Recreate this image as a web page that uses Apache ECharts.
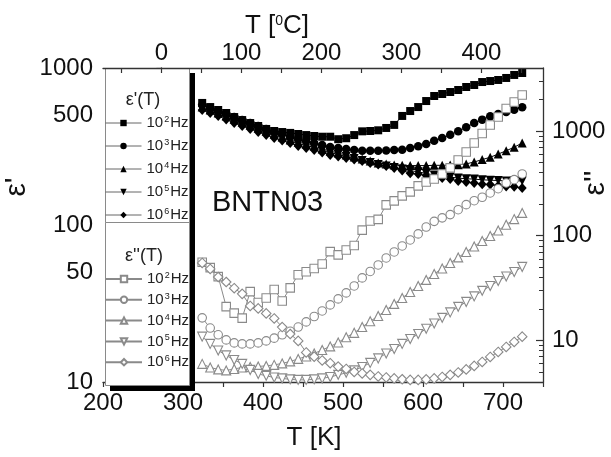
<!DOCTYPE html>
<html>
<head>
<meta charset="utf-8">
<script src="https://cdn.jsdelivr.net/npm/echarts@6/dist/echarts.min.js"></script>
<style>
  html, body { margin: 0; padding: 0; background: #fff; }
  #chart { width: 611px; height: 457px; }
</style>
</head>
<body>
<div id="chart"></div>
<script>
// Measurement temperatures (K)
const temperatureK = [324, 334, 344, 354, 364, 374, 384, 394, 404, 414, 424, 434, 444, 454, 464, 474, 484, 494, 504, 514,
  524, 534, 544, 554, 564, 574, 584, 594, 604, 614, 624, 634, 644, 654, 664, 674, 684, 694, 704, 714, 724];

// Real part of permittivity, eps'(T)
const epsReal_1e2 = [599, 564, 540, 517, 487, 466, 446, 427, 409, 397, 391, 386, 380, 374, 369, 365, 365, 352, 357, 374,
  395, 397, 401, 415, 434, 495, 532, 564, 616, 663, 683, 703, 724, 757, 779, 814, 826, 839, 864, 903, 929];
const epsReal_1e3 = [581, 556, 532, 509, 487, 466, 446, 427, 409, 391, 380, 364, 353, 343, 333, 323, 314, 309, 305, 300,
  297, 297, 297, 298, 300, 302, 309, 317, 328, 344, 358, 376, 395, 419, 446, 469, 493, 509, 524, 543, 562];
const epsReal_1e4 = [564, 540, 517, 495, 473, 453, 434, 415, 397, 380, 364, 348, 338, 328, 319, 305, 296, 287, 279, 271,
  263, 256, 248, 245, 241, 240, 239, 239, 239, 240, 240, 241, 242, 245, 252, 261, 270, 283, 297, 313, 333];
const epsReal_1e5 = [552, 532, 509, 487, 466, 446, 427, 409, 391, 374, 358, 343, 330, 321, 312, 300, 290, 281, 273, 265,
  258, 250, 243, 238, 232, 227, 222, 218, 213, 208, 205, 202, 199, 197, 196, 194, 193, 192, 191, 191, 191];
const epsReal_1e6 = [540, 517, 495, 470, 446, 427, 409, 391, 374, 358, 345, 333, 319, 309, 300, 290, 279, 273, 267, 261,
  256, 248, 243, 238, 231, 222, 214, 211, 207, 203, 199, 196, 191, 188, 185, 182, 181, 178, 176, 175, 172];

// Imaginary part of permittivity, eps''(T)
const epsImag_1e2 = [55.7, 49.5, 40.6, 21.0, 18.2, 16.3, 29.2, 23.0, 25.4, 30.6, 23.8, 31.7, 42.4, 45.3, 48.6, 53.7, 70.4, 65.5, 73.1, 80.7,
  113, 138, 143, 197, 215, 240, 262, 299, 326, 348, 389, 444, 529, 630, 769, 947, 1142, 1361, 1641, 1893, 2208];
const epsImag_1e3 = [16.4, 13.1, 11.3, 10.1, 9.45, 9.25, 9.25, 9.45, 9.88, 10.5, 11.3, 12.2, 13.4, 15.0, 16.9, 19.1, 21.8, 24.9, 28.4, 33.1,
  39.5, 45.5, 52.5, 61.3, 69.9, 79.8, 91.0, 104, 121, 137, 148, 159, 177, 198, 216, 233, 256, 281, 319, 343, 389];
const epsImag_1e4 = [5.96, 5.51, 5.28, 5.16, 5.33, 5.51, 5.57, 5.64, 5.70, 5.83, 6.02, 6.29, 6.65, 7.02, 7.50, 8.10, 8.75, 9.55, 10.7, 11.8,
  13.4, 15.2, 17.1, 19.5, 22.3, 25.4, 29.0, 33.1, 37.8, 43.1, 48.6, 54.9, 62.0, 69.9, 78.9, 89.1, 99.4, 112, 127, 144, 165];
const epsImag_1e5 = [10.85, 9.25, 8.01, 7.18, 6.50, 5.96, 5.22, 4.78, 4.58, 4.42, 4.33, 4.24, 4.19, 4.19, 4.24, 4.33, 4.47, 4.68, 4.89, 5.16,
  5.57, 6.09, 6.72, 7.50, 8.28, 9.25, 10.3, 11.5, 12.9, 14.5, 16.4, 18.5, 20.9, 23.3, 26.3, 29.7, 33.1, 36.9, 40.8, 45.0, 50.3];
const epsImag_1e6 = [54.9, 48.1, 40.3, 36.1, 31.5, 27.8, 21.3, 20.2, 18.1, 16.2, 13.4, 11.5, 9.88, 7.67, 6.99, 6.43, 6.05, 5.61, 5.33, 4.99,
  4.83, 4.68, 4.52, 4.42, 4.33, 4.25, 4.19, 4.19, 4.24, 4.33, 4.47, 4.68, 4.94, 5.28, 5.70, 6.22, 6.94, 7.75, 8.65, 9.66, 10.85];

// Frequency exponents (10^n Hz)
const freqExponents = ['2', '3', '4', '5', '6'];

// Axis ticks and labels
const bottomLabelValues = [200, 300, 400, 500, 600, 700];
const bottomTickValues = [200, 250, 300, 350, 400, 450, 500, 550, 600, 650, 700, 750];
const topLabelValues = [0, 100, 200, 300, 400];
const topTickValues = [-50, 0, 50, 100, 150, 200, 250, 300, 350, 400, 450];
const leftTickValues = [10, 50, 100, 500, 1000];
const rightTickValues = [10, 100, 1000];
const rightMinorTickValues = [5, 6, 7, 8, 9, 20, 30, 40, 50, 60, 70, 80, 90, 200, 300, 400, 500, 600, 700, 800, 900, 2000, 3000];

const FONT = 'Liberation Sans, Arial, Helvetica, sans-serif';
const GRAY = '#8a8a8a';
const AXIS_COLOR = '#333';

const realSets = [epsReal_1e2, epsReal_1e3, epsReal_1e4, epsReal_1e5, epsReal_1e6];
const imagSets = [epsImag_1e2, epsImag_1e3, epsImag_1e4, epsImag_1e5, epsImag_1e6];
const symbols = ['rect', 'circle', 'triangle', 'triangle', 'diamond'];
const rotations = [0, 0, 0, 180, 0];
const filledSizes = [8, 8.5, 9, 9, [9, 10]];
const openSizes = [8.5, 8.5, 9, 9, [9.5, 9.5]];

const realNames = freqExponents.map(n => "ε' 10^" + n + ' Hz');
const imagNames = freqExponents.map(n => "ε'' 10^" + n + ' Hz');

const pairs = vals => temperatureK.map((t, i) => [t, vals[i]]);

const series = [];
realSets.forEach((vals, k) => {
  series.push({
    name: realNames[k],
    type: 'line',
    xAxisIndex: 0,
    yAxisIndex: 0,
    data: pairs(vals),
    symbol: symbols[k],
    symbolRotate: rotations[k],
    symbolSize: filledSizes[k],
    showAllSymbol: true,
    lineStyle: { color: '#000', width: 1 },
    itemStyle: { color: '#000', borderWidth: 0 },
    emphasis: { disabled: true },
    z: 2
  });
});
imagSets.forEach((vals, k) => {
  series.push({
    name: imagNames[k],
    type: 'line',
    xAxisIndex: 0,
    yAxisIndex: 1,
    data: pairs(vals),
    symbol: symbols[k],
    symbolRotate: rotations[k],
    symbolSize: openSizes[k],
    showAllSymbol: true,
    lineStyle: { color: GRAY, width: 1 },
    itemStyle: { color: '#fff', borderColor: GRAY, borderWidth: 1.1 },
    emphasis: { disabled: true },
    z: 3
  });
});

const legendRich = {
  n: { fontSize: 15, fontFamily: FONT, color: '#222', lineHeight: 16 },
  s: { fontSize: 9, fontFamily: FONT, color: '#222', verticalAlign: 'top', lineHeight: 9, padding: [0, 1, 0, 1] }
};
const legendFormatter = name => {
  const n = name.match(/\^(\d)/)[1];
  return '{n|10}{s|' + n + '}{n|Hz}';
};

const plainNumber = v => String(v);
const labelStyle = { fontFamily: FONT, fontSize: 24, color: '#111', formatter: plainNumber };

const chart = echarts.init(document.getElementById('chart'), null, { renderer: 'canvas' });
chart.setOption({
  animation: false,
  backgroundColor: '#fff',
  grid: { left: 103, right: 68, top: 68, bottom: 75, containLabel: false, outerBoundsMode: 'none' },
  xAxis: [
    {
      type: 'value', position: 'bottom', min: 200, max: 750, z: 0,
      axisLine: { show: true, lineStyle: { color: AXIS_COLOR, width: 1.3 } },
      axisTick: { show: true, inside: false, length: 5, customValues: bottomTickValues, lineStyle: { color: AXIS_COLOR, width: 1.2 } },
      axisLabel: Object.assign({ margin: 9, customValues: bottomLabelValues }, labelStyle),
      splitLine: { show: false }
    },
    {
      type: 'value', position: 'top', min: -73, max: 477, z: 5,
      axisLine: { show: true, lineStyle: { color: AXIS_COLOR, width: 1.3 } },
      axisTick: { show: true, inside: true, length: 5, customValues: topTickValues, lineStyle: { color: AXIS_COLOR, width: 1.2 } },
      axisLabel: Object.assign({ margin: 3, customValues: topLabelValues }, labelStyle),
      splitLine: { show: false }
    }
  ],
  yAxis: [
    {
      type: 'log', logBase: 10, position: 'left', min: 10, max: 1000, z: 0,
      axisLine: { show: true, lineStyle: { color: AXIS_COLOR, width: 1.3 } },
      axisTick: { show: true, inside: false, length: 5, customValues: leftTickValues, lineStyle: { color: AXIS_COLOR, width: 1.2 } },
      axisLabel: Object.assign({ margin: 10, customValues: leftTickValues }, labelStyle),
      splitLine: { show: false },
      minorTick: { show: false }
    },
    {
      type: 'log', logBase: 10, position: 'right', min: 4, max: 4000, z: 1,
      axisLine: { show: true, lineStyle: { color: AXIS_COLOR, width: 1.3 } },
      axisTick: { show: true, inside: true, length: 7, customValues: rightTickValues, lineStyle: { color: AXIS_COLOR, width: 1.2 } },
      axisLabel: Object.assign({ margin: 9, customValues: rightTickValues }, labelStyle),
      splitLine: { show: false }
    },
    {
      type: 'log', logBase: 10, position: 'right', min: 4, max: 4000, z: 1,
      axisLine: { show: false },
      axisTick: { show: true, inside: true, length: 4, customValues: rightMinorTickValues, lineStyle: { color: AXIS_COLOR, width: 1 } },
      axisLabel: { show: false },
      splitLine: { show: false }
    }
  ],
  legend: [
    {
      data: realNames, orient: 'vertical', left: 105, top: 115, padding: 0,
      itemWidth: 36, itemHeight: 8, itemGap: 7.5, selectedMode: false, z: 6,
      lineStyle: { color: '#666', width: 1 },
      textStyle: { fontFamily: FONT, fontSize: 15, color: '#222', rich: legendRich },
      formatter: legendFormatter
    },
    {
      data: imagNames, orient: 'vertical', left: 105, top: 271, padding: 0,
      itemWidth: 36, itemHeight: 8, itemGap: 5.3, selectedMode: false, z: 6,
      textStyle: { fontFamily: FONT, fontSize: 15, color: '#222', rich: legendRich },
      formatter: legendFormatter
    }
  ],
  graphic: [
    // legend box shadows
    { type: 'rect', z: 3, shape: { x: 189, y: 73, width: 6, height: 318 }, style: { fill: '#000' } },
    { type: 'rect', z: 3, shape: { x: 110, y: 385, width: 85, height: 6 }, style: { fill: '#000' } },
    // legend boxes
    { type: 'rect', z: 3, shape: { x: 105.5, y: 68.5, width: 84, height: 154 }, style: { fill: '#fff', stroke: GRAY, lineWidth: 1 } },
    { type: 'rect', z: 3, shape: { x: 105.5, y: 222.5, width: 84, height: 163 }, style: { fill: '#fff', stroke: GRAY, lineWidth: 1 } },
    // legend headings
    { type: 'text', z: 7, x: 143, y: 100, style: { text: "ε'(T)", fontFamily: FONT, fontSize: 18, fill: '#222', align: 'center', verticalAlign: 'middle' } },
    { type: 'text', z: 7, x: 144, y: 256, style: { text: "ε''(T)", fontFamily: FONT, fontSize: 18, fill: '#222', align: 'center', verticalAlign: 'middle' } },
    // sample name
    { type: 'text', z: 7, x: 212, y: 217, style: { text: 'BNTN03', fontFamily: FONT, fontSize: 29, fill: '#111', align: 'left', verticalAlign: 'bottom' } },
    // axis titles
    { type: 'text', z: 7, x: 314, y: 438, style: { text: 'T [K]', fontFamily: FONT, fontSize: 26, fill: '#111', align: 'center', verticalAlign: 'middle' } },
    { type: 'text', z: 7, x: 277, y: 26, style: {
        text: '{a|T [}{b|0}{a|C]}', align: 'center', verticalAlign: 'middle',
        rich: {
          a: { fontFamily: FONT, fontSize: 26, fill: '#111', color: '#111', lineHeight: 30 },
          b: { fontFamily: FONT, fontSize: 14, fill: '#111', color: '#111', lineHeight: 14, verticalAlign: 'top', padding: [3, 0, 0, 0] }
        } } },
    { type: 'text', z: 7, x: 17, y: 187, rotation: Math.PI / 2, style: { text: "ε'", fontFamily: FONT, fontSize: 30, fill: '#111', align: 'center', verticalAlign: 'middle' } },
    { type: 'text', z: 7, x: 596, y: 183, rotation: Math.PI / 2, style: { text: "ε''", fontFamily: FONT, fontSize: 30, fill: '#111', align: 'center', verticalAlign: 'middle' } }
  ],
  series: series
});
</script>
</body>
</html>
